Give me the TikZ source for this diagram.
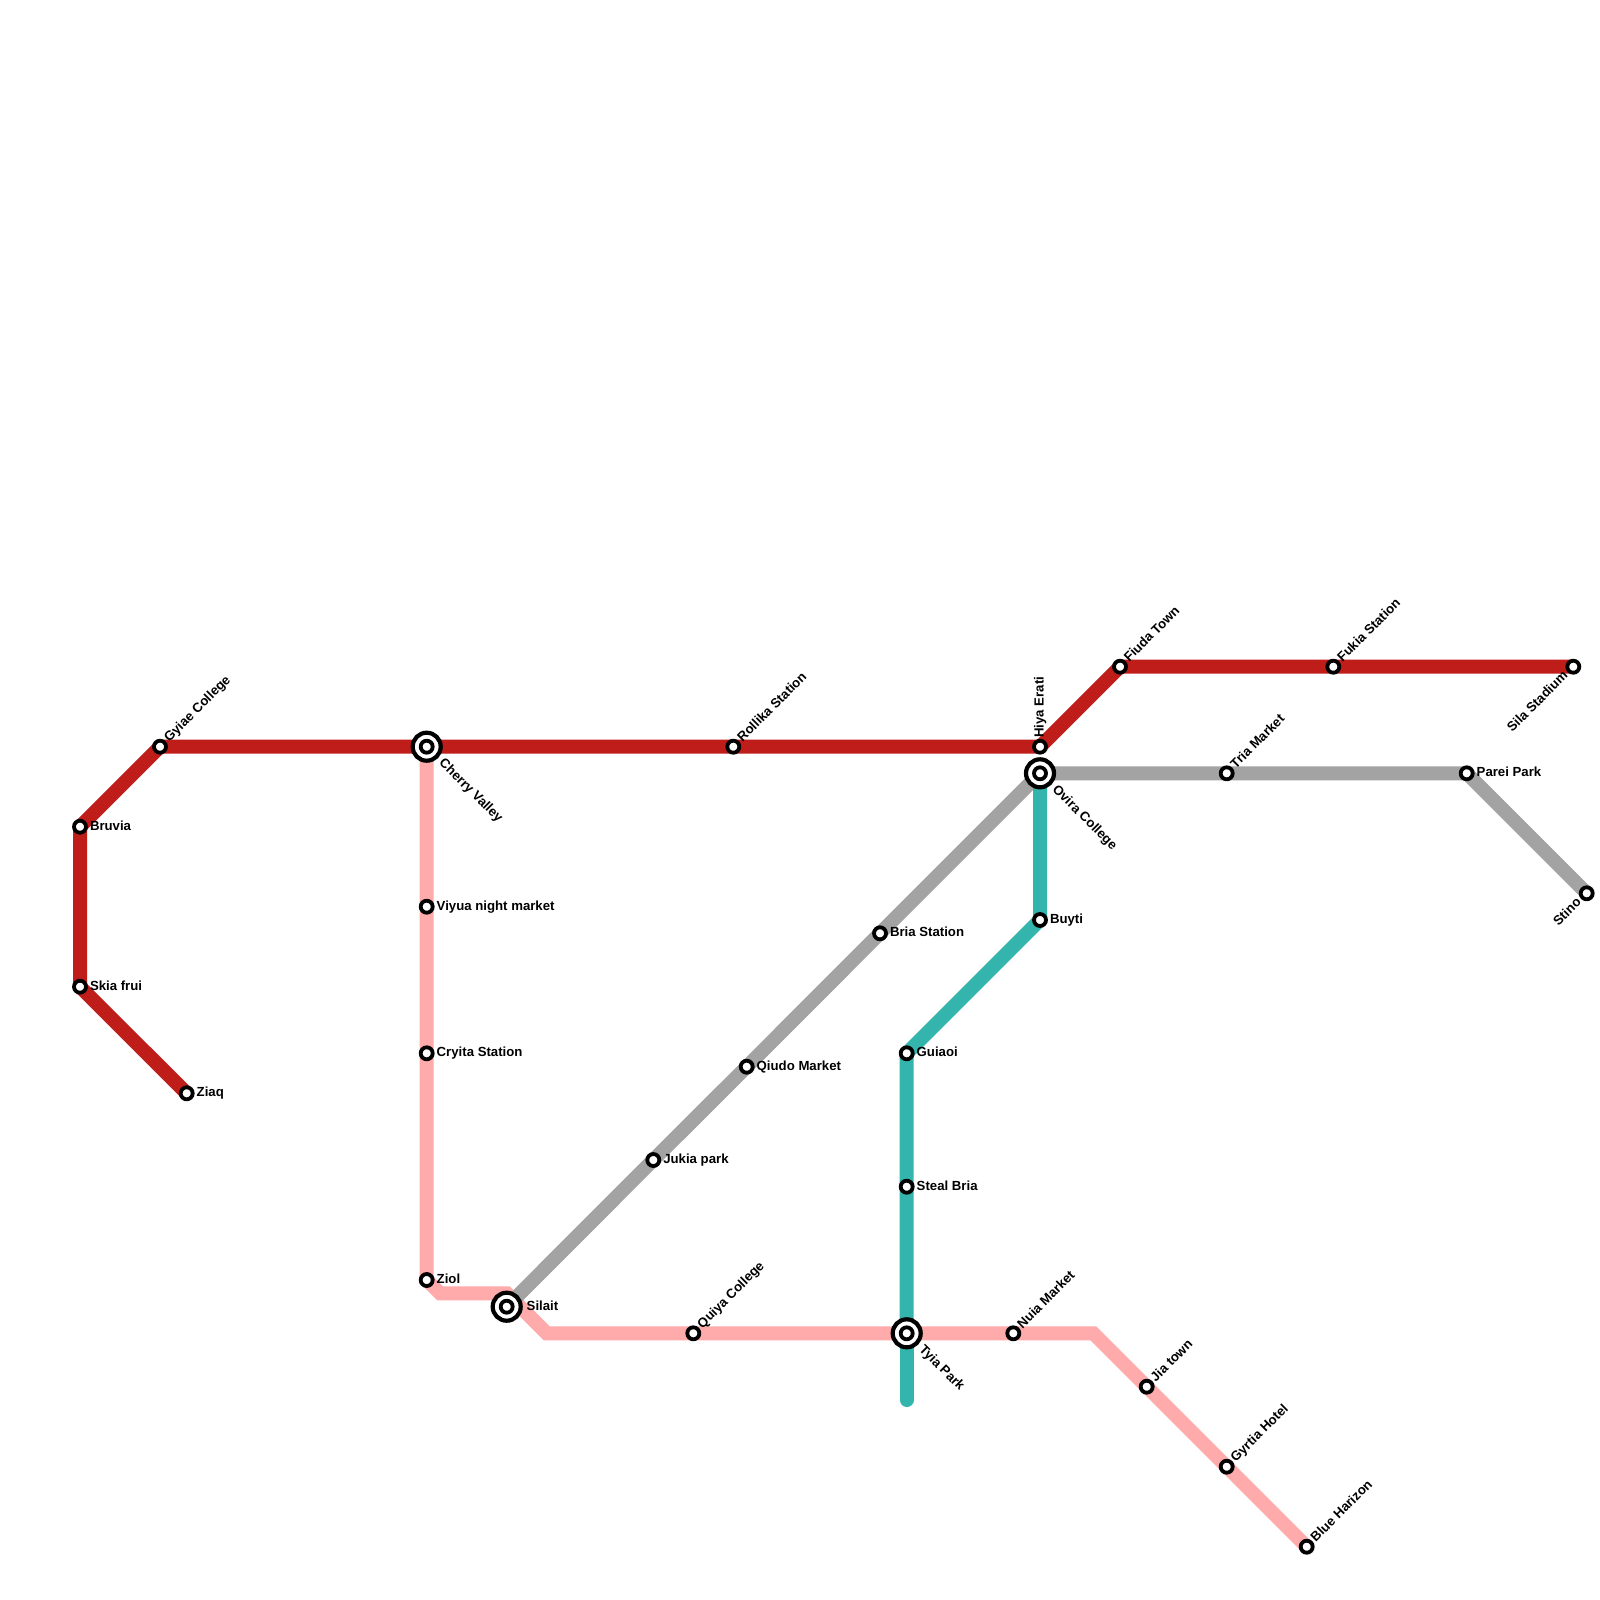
\documentclass[tikz,border=0pt]{standalone}
\usepackage{fontspec}
\setmainfont{Liberation Sans}
\usetikzlibrary{backgrounds}
\definecolor{redline}{HTML}{BF1D1A}
\definecolor{pinkline}{HTML}{FFABAB}
\definecolor{greyline}{HTML}{A3A3A3}
\definecolor{tealline}{HTML}{33B5AD}
\tikzset{
  stn/.style={circle,draw=black,fill=white,line width=3.8pt,minimum size=12pt,inner sep=0pt,outer sep=0pt},
  ichange/.style={circle,draw=black,fill=white,line width=4.2pt,minimum size=28pt,inner sep=0pt,outer sep=0pt},
  lbl/.style={font=\fontsize{13.2pt}{15pt}\selectfont\bfseries,text=black,inner sep=0pt,outer sep=0pt,anchor=base west},
  rbl/.style={font=\fontsize{13.2pt}{15pt}\selectfont\bfseries,text=black,inner sep=0pt,outer sep=0pt,anchor=base east},
  metro/.style={line width=14pt,line join=miter}
}
\newcommand{\stnode}[6]{% name, x, y, text, angle, offset
  \node[stn] (#1) at (#2,#3) {};
  \path (#1.center) ++(#5:#6pt) ++(#5-90:3.6pt) node[lbl,rotate=#5] (#1-t) {#4};
}
\newcommand{\stnback}[6]{% text reads toward the station
  \node[stn] (#1) at (#2,#3) {};
  \path (#1.center) ++(#5:#6pt) ++(#5+90:3.6pt) node[rbl,rotate=#5+180] (#1-t) {#4};
}
\newcommand{\icnode}[6]{%
  \node[ichange] (#1-o) at (#2,#3) {};
  \node[stn] (#1) at (#2,#3) {};
  \path (#1.center) ++(#5:#6pt) ++(#5-90:3.6pt) node[lbl,rotate=#5] (#1-t) {#4};
}
\begin{document}
\begin{tikzpicture}[x=1pt,y=-1pt]
\useasboundingbox (0,0) rectangle (1600,1600);
% red line stations
\stnode{bruvia}{80}{826.7}{Bruvia}{0}{10}
\stnode{skia}{80}{986.7}{Skia frui}{0}{10}
\stnode{ziaq}{186.7}{1093.3}{Ziaq}{0}{10}
\stnode{gyiae}{160}{746.7}{Gyiae College}{45}{9.5}
\icnode{cherry}{426.7}{746.7}{Cherry Valley}{-45}{20.5}
\stnode{rollika}{733.3}{746.7}{Rollika Station}{45}{9.5}
\stnode{hiya}{1040}{746.7}{Hiya Erati}{90}{9}
\stnode{fiuda}{1120}{666.7}{Fiuda Town}{45}{9.5}
\stnode{fukia}{1333.3}{666.7}{Fukia Station}{45}{9.5}
\stnback{sila}{1573.3}{666.7}{Sila Stadium}{-135}{10.5}
% pink line stations
\stnode{viyua}{426.7}{906.7}{Viyua night market}{0}{10}
\stnode{crytia}{426.7}{1053.3}{Cryita Station}{0}{10}
\stnode{ziol}{426.7}{1280}{Ziol}{0}{10}
\icnode{silait}{506.7}{1306.7}{Silait}{0}{20}
\stnode{quiya}{693.3}{1333.3}{Quiya College}{45}{9.5}
\icnode{tyia}{906.7}{1333.3}{Tyia Park}{-45}{20.5}
\stnode{nuia}{1013.3}{1333.3}{Nuia Market}{45}{9.5}
\stnode{jia}{1146.7}{1386.7}{Jia town}{45}{9.5}
\stnode{gyrtia}{1226.7}{1466.7}{Gyrtia Hotel}{45}{9.5}
\stnode{blue}{1306.7}{1546.7}{Blue Harizon}{45}{9.5}
% grey line stations
\icnode{ovira}{1040}{773.3}{Ovira College}{-45}{20.5}
\stnode{tria}{1226.7}{773.3}{Tria Market}{45}{9.5}
\stnode{parei}{1466.7}{773.3}{Parei Park}{0}{10}
\stnback{stino}{1586.7}{893.3}{Stino}{-135}{10.5}
\stnode{bria}{880}{933.3}{Bria Station}{0}{10}
\stnode{qiudo}{746.7}{1066.7}{Qiudo Market}{0}{10}
\stnode{jukia}{653.3}{1160}{Jukia park}{0}{10}
% teal line stations
\stnode{buyti}{1040}{920}{Buyti}{0}{10}
\stnode{guiaoi}{906.7}{1053.3}{Guiaoi}{0}{10}
\stnode{steal}{906.7}{1186.7}{Steal Bria}{0}{10}
% bends and free ends
\coordinate (z1) at (440,1293.3);
\coordinate (z2) at (506.7,1293.3);
\coordinate (z3) at (546.7,1333.3);
\coordinate (z4) at (1093.3,1333.3);
\coordinate (tealend) at (906.7,1400);
\begin{scope}[on background layer]
  \fill[white] (0,0) rectangle (1600,1600);
  \draw[metro,pinkline] (cherry.center) -- (viyua.center) -- (crytia.center) -- (ziol.center) -- (z1) -- (z2) -- (z3) -- (quiya.center) -- (tyia.center);
  \draw[metro,pinkline] (tyia.center) -- (nuia.center) -- (z4) -- (jia.center) -- (gyrtia.center) -- (blue.center);
  \draw[metro,greyline] (silait.center) -- (jukia.center) -- (qiudo.center) -- (bria.center) -- (ovira.center) -- (tria.center) -- (parei.center) -- (stino.center);
  \draw[metro,tealline] (ovira.center) -- (buyti.center) -- (guiaoi.center) -- (steal.center) -- (tyia.center);
  \draw[metro,tealline,line cap=round] (tyia.center) -- (tealend);
  \draw[metro,redline] (ziaq.center) -- (skia.center) -- (bruvia.center) -- (gyiae.center) -- (cherry.center) -- (rollika.center) -- (hiya.center) -- (fiuda.center) -- (fukia.center) -- (sila.center);
\end{scope}
\end{tikzpicture}
\end{document}
